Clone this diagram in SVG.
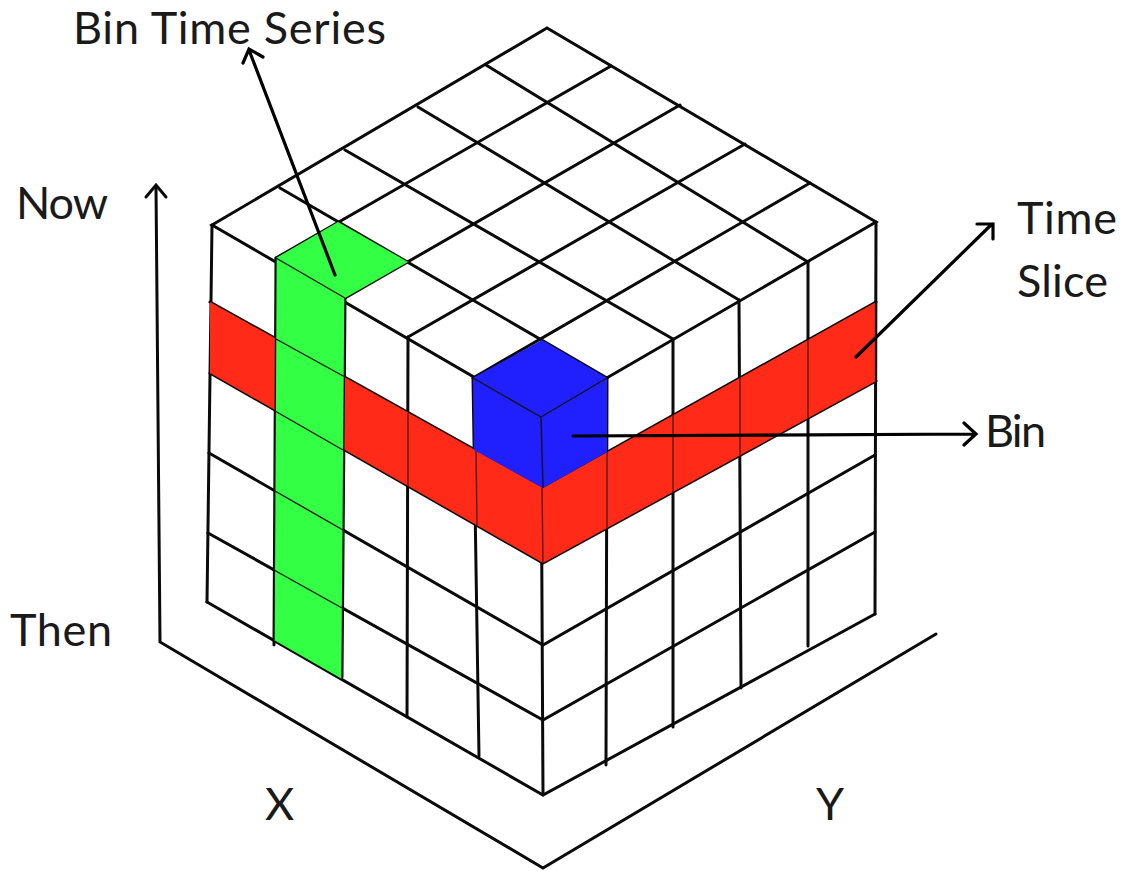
<svg xmlns="http://www.w3.org/2000/svg" width="1124" height="871" viewBox="0 0 1124 871">
<style>
.k{stroke:#0a0a0a;stroke-width:3;fill:none;stroke-linecap:round}
.thin{stroke:#141414;stroke-width:1.4;fill:none}
.redline{stroke:#5a1c10;stroke-width:1.4;fill:none}
.arrow{stroke:#000;stroke-width:3.2;fill:none;stroke-linecap:round;stroke-linejoin:miter}
text{font-family:"Lato","Liberation Sans",sans-serif;font-size:45px;fill:#1a1a1a}
</style>
<rect width="1124" height="871" fill="#fff"/>
<g id="connectors">
<g id="top-grid">
<path class="k" d="M212 225L547 28L876 222L541 416Z"/>
<path class="k" d="M473 378L810 183M408 337L745 144M345 298L680 105M276 258L611 66"/>
<path class="k" d="M607 378L280 188M673 339L345 150M739 300L418 107M808 262L486 65"/>
</g>
<g id="verticals">
<path class="k" d="M212 225L207 602M276 258L274 645M345 298L342 677M408 337L407 717M473 378L479 756M541 416L543 795M607 378L606 765M673 339L673 727M739 300L741 688M808 262L808 646M876 222L875 614"/>
</g>
<g id="levels">
<path class="k" d="M210 302L543 488L876 302M210 373L543 563L876 381M209 453L543 645L875 455M208 533L543 720L875 532M207 602L543 795L875 614"/>
</g>
</g>
<g id="time-slice"><polygon fill="#ff2a18" points="210,302 543,488 876,302 876,381 543,563 210,373"/>
<path class="redline" d="M408 413L408 486M476 451L477 525M542 488L543 563M607 452L607 528M673 415L673 492M740 378L740 455M808 340L808 418"/>
<path class="thin" d="M876 302L876 381" style="stroke-width:2.2"/>
</g>
<g id="bin-time-series"><polygon fill="#33ff44" points="276,258 338,222 408,262 345,298 342,679 274,640"/>
<path class="thin" d="M276 258L345 298M276 339L345 377M275 411L343 450M275 491L343 530M274 570L342 608M276 258L274 640M345 298L342 679"/>
</g>
<g id="bin"><polygon fill="#2020ff" points="473,378 542,340 607,378 607,452 543,488 474,450"/>
<path class="thin" d="M473 378L541 417L607 378M541 417L543 488"/>
</g>
<g id="axes">
<path class="k" d="M156 186L160 642L543 868L936 634"/>
<path class="k" d="M146 197L156 185L166 197"/>
</g>
<g id="callouts">
<path class="arrow" d="M335 275L249 50M243 63L249 49L263 57"/>
<path class="arrow" d="M573 436L976 434M964 423L976 434L964 445"/>
<path class="arrow" d="M856 357L992 224M977 224L993 224L993 239"/>
</g>
<g id="labels">
<text x="73" y="44" textLength="313">Bin Time Series</text>
<text x="16" y="219" textLength="92">Now</text>
<text x="10" y="646" textLength="102">Then</text>
<text x="265" y="820" textLength="27">X</text>
<text x="816" y="820" textLength="26">Y</text>
<text x="1017" y="234" textLength="100">Time</text>
<text x="1017" y="297" textLength="91">Slice</text>
<text x="985" y="447" textLength="61">Bin</text>
</g>
</svg>
